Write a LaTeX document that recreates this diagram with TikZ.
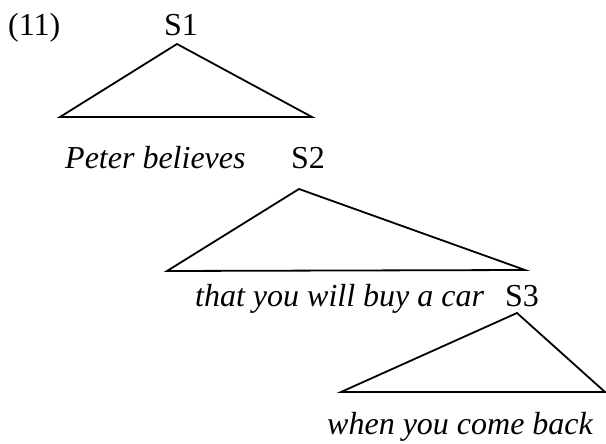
\documentclass[tikz,border=0pt]{standalone}
\usepackage{fontspec}
\setmainfont{Liberation Serif}
\begin{document}
\begin{tikzpicture}[x=1pt,y=-1pt,
  lbl/.style={inner sep=0pt, font=\fontsize{32}{38}\selectfont},
  tri/.style={line width=1.8pt, line join=miter}]
\useasboundingbox (0,0) rectangle (606,444);
% labels
\node[lbl, anchor=base west] (ex) at (8,36) {(11)};
\node[lbl, anchor=base] (s1) at (181,36) {S1};
\node[lbl, anchor=base west] (w1) at (65,168) {\itshape Peter believes};
\node[lbl, anchor=base] (s2) at (308,168) {S2};
\node[lbl, anchor=base west] (w2) at (195,306) {\itshape that you will buy a car};
\node[lbl, anchor=base] (s3) at (522,306) {S3};
\node[lbl, anchor=base west] (w3) at (327,434) {\itshape when you come back};
% triangle corners
\coordinate (a1) at (177,44); \coordinate (l1) at (60,117); \coordinate (r1) at (312,117);
\coordinate (a2) at (299,189); \coordinate (l2) at (167,271); \coordinate (r2) at (525,270);
\coordinate (a3) at (517,313); \coordinate (l3) at (341,392); \coordinate (r3) at (605,392);
\draw[tri] (l1) -- (a1) -- (r1) -- cycle;
\draw[tri] (l2) -- (a2) -- (r2) -- cycle;
\draw[tri] (l3) -- (a3) -- (r3) -- cycle;
\end{tikzpicture}
\end{document}
